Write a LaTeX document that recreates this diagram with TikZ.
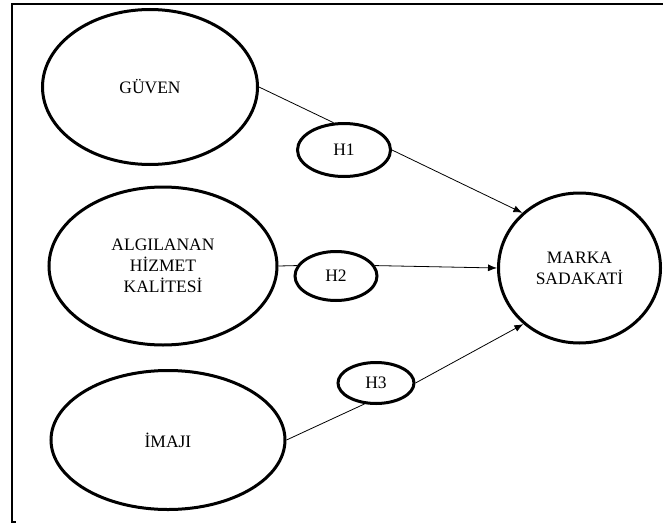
\documentclass[tikz,border=0pt]{standalone}
\usepackage{fontspec}
\setmainfont{Liberation Serif}
\usetikzlibrary{shapes,arrows.meta}

\begin{document}
\begin{tikzpicture}[x=1pt,y=-1pt]
\fontsize{17.5}{21}\selectfont
\tikzset{construct/.style={ellipse,draw,line width=3pt,align=center,inner sep=0pt}}
\tikzset{hyp/.style={ellipse,draw,line width=3pt,inner sep=0pt}}
\tikzset{link/.style={line width=0.8pt}}
\tikzset{linkarrow/.style={line width=0.8pt,-{Latex[length=9pt,width=7pt]}}}
\useasboundingbox (0,0) rectangle (663,527);
%\draw frame (only left and top sides)
\draw[line width=1.5pt] (663,4) -- (12,4) -- (12,522) -- (16,522);
\node[construct,minimum width=215pt,minimum height=155pt] (guven) at (150,87) {GÜVEN};
\node[construct,minimum width=228pt,minimum height=158pt] (algilanan) at (163,266) {ALGILANAN\\HİZMET\\KALİTESİ};
\node[construct,minimum width=234pt,minimum height=139pt] (imaji) at (168,440) {İMAJI};
\node[construct,minimum width=162pt,minimum height=150pt] (marka) at (579.5,268) {MARKA\\SADAKATİ};
\node[hyp,minimum width=93pt,minimum height=53pt] (h1) at (344,150) {H1};
\node[hyp,minimum width=82pt,minimum height=49pt] (h2) at (336,276) {H2};
\node[hyp,minimum width=76pt,minimum height=41pt] (h3) at (376,383) {H3};
\draw[link] (guven.east) -- (h1.111);
\draw[linkarrow] (h1.east) -- (marka.136);
\draw[link] (algilanan.east) -- (h2.165);
\draw[linkarrow] (h2.15) -- (marka.west);
\draw[link] (imaji.east) -- (h3.241);
\draw[linkarrow] (h3.east) -- (marka.225);
\end{tikzpicture}
\end{document}
